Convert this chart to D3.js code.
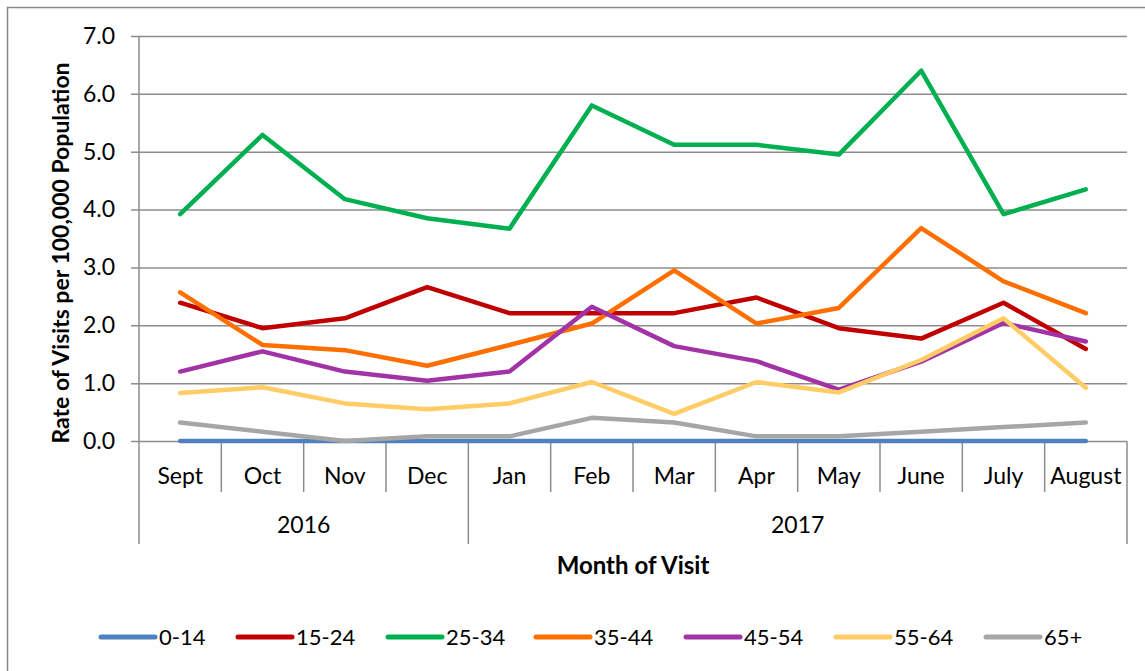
<!DOCTYPE html>
<html>
<head>
<meta charset="utf-8">
<script src="https://cdn.jsdelivr.net/npm/d3@7"></script>
<style>
  body { margin: 0; background: #fff; }
  svg { display: block; font-family: Lato, "Open Sans", sans-serif; }
</style>
</head>
<body>
<svg id="chart"></svg>
<script>
// data
var months = ["Sept", "Oct", "Nov", "Dec", "Jan", "Feb", "Mar", "Apr", "May", "June", "July", "August"];
var years = [{ label: "2016", from: 0, to: 4 }, { label: "2017", from: 4, to: 12 }];
var yTicks = [0, 1, 2, 3, 4, 5, 6, 7];
var groups = ["0-14", "15-24", "25-34", "35-44", "45-54", "55-64", "65+"];
var colors = ["#4F81BD", "#C00000", "#00B050", "#FF6F00", "#A233A6", "#FFCC66", "#A6A6A6"];

var age0_14  = [0, 0, 0, 0, 0, 0, 0, 0, 0, 0, 0, 0];
var age15_24 = [2.39, 1.95, 2.12, 2.66, 2.21, 2.21, 2.21, 2.48, 1.95, 1.77, 2.39, 1.59];
var age25_34 = [3.92, 5.29, 4.18, 3.85, 3.67, 5.80, 5.12, 5.12, 4.95, 6.40, 3.92, 4.35];
var age35_44 = [2.57, 1.66, 1.57, 1.30, 1.66, 2.03, 2.95, 2.03, 2.30, 3.68, 2.76, 2.21];
var age45_54 = [1.20, 1.55, 1.20, 1.04, 1.20, 2.32, 1.64, 1.38, 0.89, 1.37, 2.04, 1.72];
var age55_64 = [0.83, 0.93, 0.65, 0.55, 0.65, 1.02, 0.47, 1.02, 0.84, 1.40, 2.12, 0.92];
var age65    = [0.32, 0.16, 0.0, 0.08, 0.08, 0.40, 0.32, 0.08, 0.08, 0.16, 0.24, 0.32];
var series = [age0_14, age15_24, age25_34, age35_44, age45_54, age55_64, age65];

var W = 1145, H = 671;
var plot = { left: 139, right: 1127, top: 36, bottom: 441 };

var svg = d3.select("#chart").attr("width", W).attr("height", H);

// chart frame
svg.append("rect").attr("x", 7.5).attr("y", 7.5).attr("width", W + 20).attr("height", H + 20)
  .attr("fill", "none").attr("stroke", "#888").attr("stroke-width", 1.5);

var x = d3.scaleBand().domain(months).range([plot.left, plot.right]);
var y = d3.scaleLinear().domain([0, 7]).range([plot.bottom, plot.top]);

// gridlines + y axis
var yAxis = d3.axisLeft(y).tickValues(yTicks).tickFormat(d3.format(".1f"))
  .tickSize(-(plot.right - plot.left)).tickPadding(24);
var yG = svg.append("g").attr("transform", "translate(" + plot.left + ",0)").call(yAxis);
yG.select(".domain").remove();
yG.selectAll(".tick line").attr("stroke", "#8c8c8c").attr("stroke-width", 1.5)
  .attr("x1", -8);
yG.selectAll(".tick text").attr("font-size", 23).attr("fill", "#000")
  .attr("font-family", "Lato, sans-serif");

// left and right vertical lines, extended down through category area
svg.append("line").attr("x1", plot.left).attr("x2", plot.left).attr("y1", plot.top).attr("y2", 544)
  .attr("stroke", "#8c8c8c").attr("stroke-width", 1.5);
svg.append("line").attr("x1", plot.right).attr("x2", plot.right).attr("y1", plot.bottom).attr("y2", 544)
  .attr("stroke", "#8c8c8c").attr("stroke-width", 1.5);

// month separators
months.forEach(function(m, i) {
  if (i === 0) return;
  var isYear = years.some(function(yr) { return yr.from === i; });
  svg.append("line").attr("x1", x(m)).attr("x2", x(m)).attr("y1", plot.bottom).attr("y2", isYear ? 544 : 492)
    .attr("stroke", "#8c8c8c").attr("stroke-width", 1.5);
});

// month labels
svg.append("g").selectAll("text").data(months).enter().append("text")
  .attr("x", function(d) { return x(d) + x.bandwidth() / 2; })
  .attr("y", 484)
  .attr("text-anchor", "middle").attr("font-size", 23)
  .text(function(d) { return d; });

// year labels
svg.append("g").selectAll("text").data(years).enter().append("text")
  .attr("x", function(d) { return (x(months[d.from]) + (d.to < months.length ? x(months[d.to]) : plot.right)) / 2; })
  .attr("y", 533)
  .attr("text-anchor", "middle").attr("font-size", 23)
  .text(function(d) { return d.label; });

// axis titles
svg.append("text").attr("x", 633).attr("y", 574).attr("text-anchor", "middle")
  .attr("font-size", 24).attr("font-weight", "bold").text("Month of Visit");
svg.append("text").attr("transform", "translate(69,253) rotate(-90)").attr("text-anchor", "middle")
  .attr("font-size", 23).attr("font-weight", "bold").text("Rate of Visits per 100,000 Population");

// series lines
var line = d3.line()
  .x(function(d, i) { return x(months[i]) + x.bandwidth() / 2; })
  .y(function(d) { return y(d); });

series.forEach(function(s, k) {
  svg.append("path").attr("d", line(s))
    .attr("fill", "none").attr("stroke", colors[k]).attr("stroke-width", 4.5)
    .attr("stroke-linejoin", "round").attr("stroke-linecap", "round");
});

// legend
var legendX = [101, 238, 388, 536, 686, 836, 986];
var lg = svg.append("g").selectAll("g").data(groups).enter().append("g")
  .attr("transform", function(d, i) { return "translate(" + legendX[i] + ",637)"; });
lg.append("line").attr("x1", 0).attr("x2", 54).attr("y1", 0).attr("y2", 0)
  .attr("stroke", function(d, i) { return colors[i]; }).attr("stroke-width", 5).attr("stroke-linecap", "round");
lg.append("text").attr("x", 58).attr("y", 8).attr("font-size", 22)
  .text(function(d) { return d; });
</script>
</body>
</html>
